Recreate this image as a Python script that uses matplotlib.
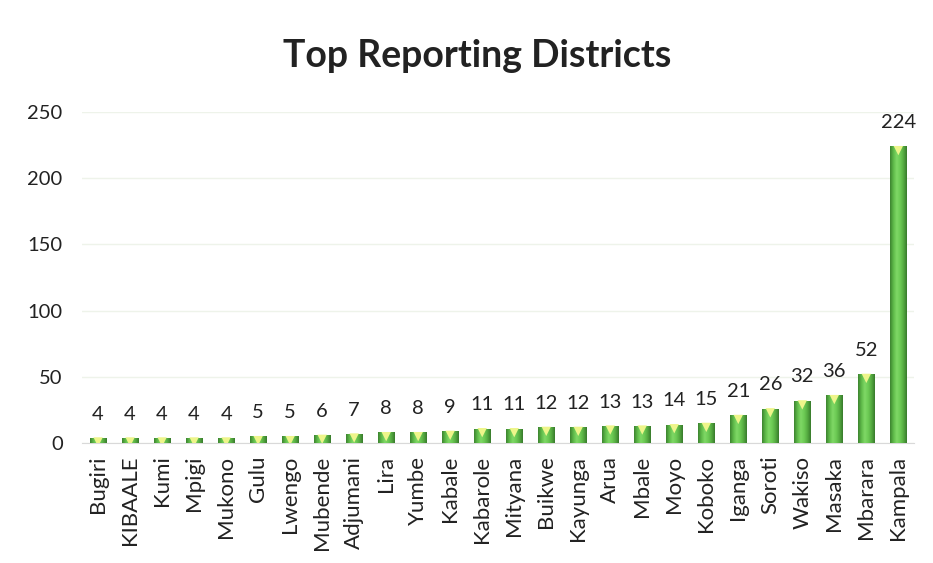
import numpy as np
import matplotlib.pyplot as plt
import matplotlib.transforms as mtransforms
from matplotlib.colors import LinearSegmentedColormap

districts = ["Bugiri", "KIBAALE", "Kumi", "Mpigi", "Mukono", "Gulu", "Lwengo",
             "Mubende", "Adjumani", "Lira", "Yumbe", "Kabale", "Kabarole",
             "Mityana", "Buikwe", "Kayunga", "Arua", "Mbale", "Moyo", "Koboko",
             "Iganga", "Soroti", "Wakiso", "Masaka", "Mbarara", "Kampala"]
reports = [4, 4, 4, 4, 4, 5, 5, 6, 7, 8, 8, 9, 11, 11, 12, 12, 13, 13, 14, 15,
           21, 26, 32, 36, 52, 224]
yticks = [0, 50, 100, 150, 200, 250]

plt.rcParams['font.family'] = ['Lato', 'DejaVu Sans']

fig = plt.figure(figsize=(9.33, 5.63), dpi=100)
ax = fig.add_axes([0.088, 0.213, 0.892, 0.588])

x = np.arange(len(districts))
bars = ax.bar(x, reports, width=0.53, color='#63c04b', zorder=2)

# cylinder shading: dark edges, light middle
cyl = LinearSegmentedColormap.from_list(
    'cyl', ['#3d842f', '#5fba49', '#7fd866', '#6dcb55', '#55ab41', '#387b2c'])
grad = np.linspace(0, 1, 64).reshape(1, -1)
for b in bars:
    bx, by = b.get_x(), b.get_y()
    im = ax.imshow(grad, cmap=cyl, aspect='auto', zorder=3,
                   extent=[bx, bx + b.get_width(), by, by + b.get_height()])
    im.set_clip_path(b)

# light top cap, nudged just inside the bar top
down = mtransforms.ScaledTranslation(0, -3 / 72, fig.dpi_scale_trans)
ax.scatter(x, reports, marker='v', s=45, color='#eef58a', edgecolor='none',
           zorder=4, transform=ax.transData + down)

for xi, v in zip(x, reports):
    ax.annotate(str(v), (xi, v), xytext=(0, 11), textcoords='offset points',
                ha='center', va='bottom', fontsize=14.5, color='#222222')

ax.set_xlim(-0.5, len(districts) - 0.5)
ax.set_ylim(0, 250)
ax.set_yticks(yticks)
ax.set_xticks(x)
ax.set_xticklabels(districts, rotation=90, fontsize=16, color='#222222')
ax.tick_params(axis='y', labelsize=14.5, colors='#222222', length=0, pad=14)
ax.tick_params(axis='x', length=0, pad=9)
ax.grid(axis='y', color='#eef3ea', linewidth=1, zorder=0)
for s in ['top', 'right', 'left']:
    ax.spines[s].set_visible(False)
ax.spines['bottom'].set_color('#d9d9d9')

fig.text(0.511, 0.9, 'Top Reporting Districts', ha='center', va='center',
         fontsize=27, fontweight='bold', color='#222222')

fig.savefig('out.png', dpi=100, facecolor='white')
